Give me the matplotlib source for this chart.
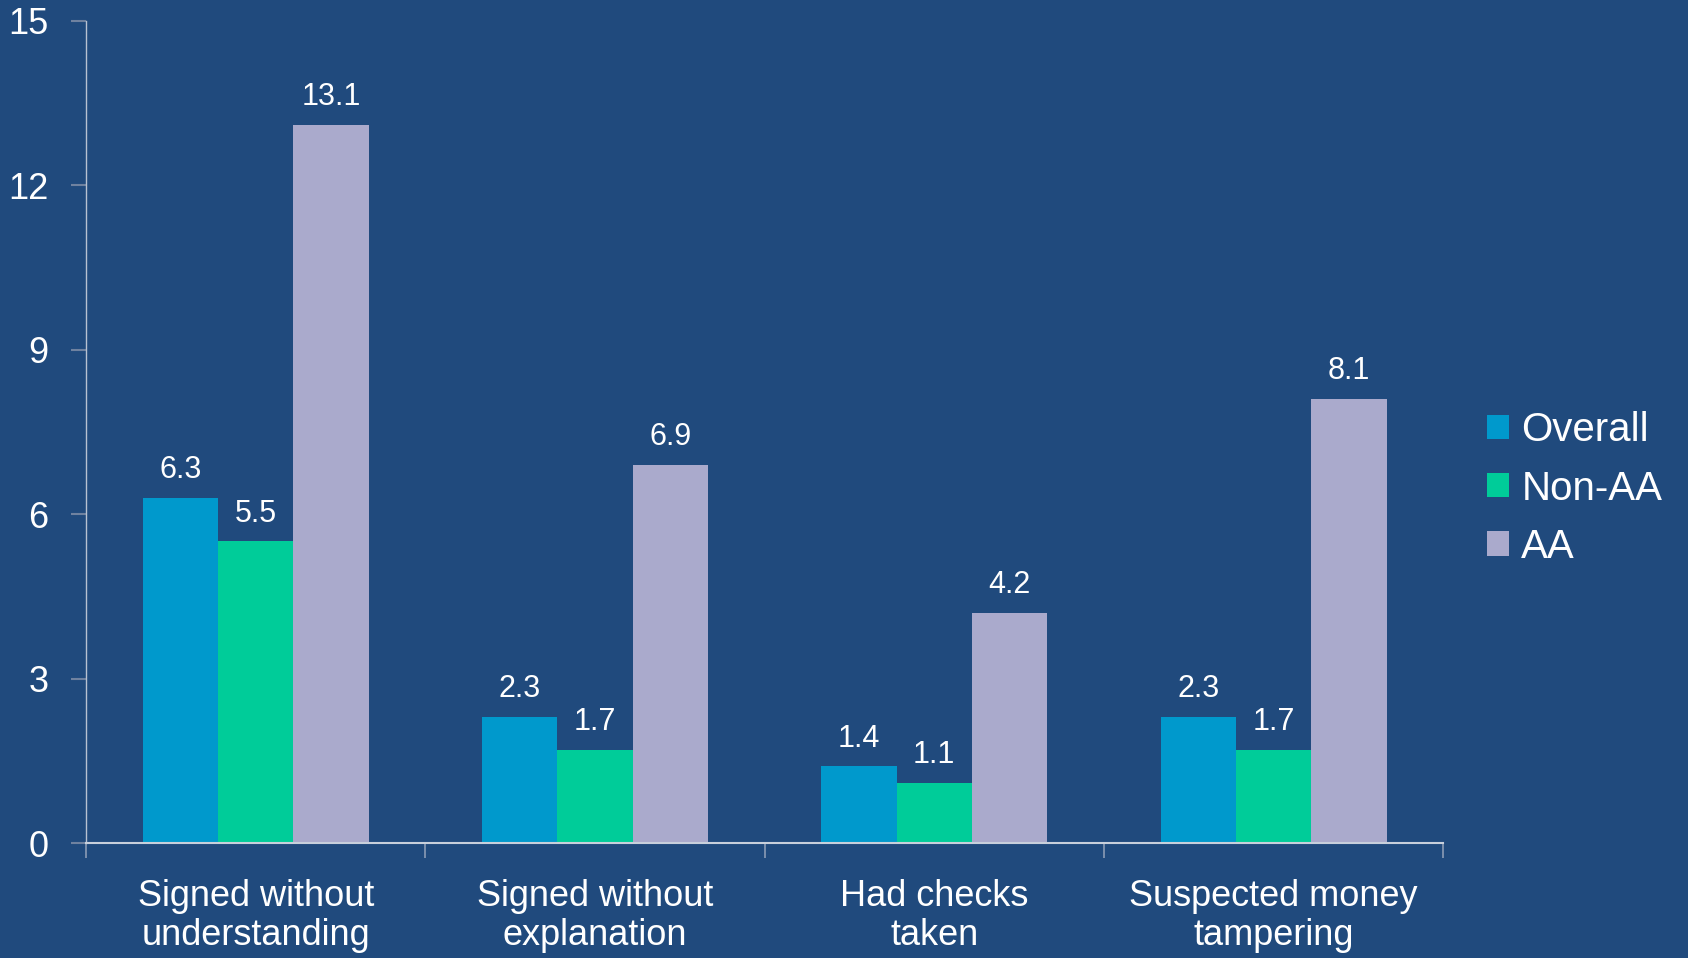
import matplotlib

matplotlib.use("Agg")

import matplotlib.pyplot as plt
import numpy as np

categorias = ["Signed without\nunderstanding", "Signed without\nexplanation",
              "Had checks\ntaken", "Suspected money\ntampering"]
overall = [6.3, 2.3, 1.4, 2.3]
non_aa = [5.5, 1.7, 1.1, 1.7]
aa = [13.1, 6.9, 4.2, 8.1]
series = ["Overall", "Non-AA", "AA"]
cores = ["#0099CC", "#00CC99", "#AAAACC"]

fundo = "#204A7D"
plt.rcParams["font.family"] = ["Liberation Sans", "DejaVu Sans"]

fig = plt.figure(figsize=(16.88, 9.58), dpi=100, facecolor=fundo)
ax = fig.add_axes([0.051, 0.120, 0.804, 0.8586])
ax.set_facecolor(fundo)

x = np.arange(len(categorias))
largura = 0.222
for i, (nome, valores, cor) in enumerate(zip(series, [overall, non_aa, aa], cores)):
    barras = ax.bar(x + (i - 1) * largura, valores, largura, color=cor, label=nome)
    ax.bar_label(barras, labels=[f"{v:.1f}" for v in valores], padding=9,
                 fontsize=22, color="white")

ax.set_xlim(-0.5, len(categorias) - 0.5)
ax.set_ylim(0, 15)
ax.set_yticks([0, 3, 6, 9, 12, 15])

ax.set_xticks(x)
ax.set_xticklabels(categorias, fontsize=26, color="white", linespacing=1.15)
ax.set_xticks(np.arange(-0.5, len(categorias)), minor=True)
ax.tick_params(axis="x", which="major", length=0, pad=26)
ax.tick_params(axis="x", which="minor", length=11, color="#8A9BB5", width=1.2)
ax.tick_params(axis="y", length=11, color="#6F82A0", width=1.5, pad=16,
               labelsize=26, labelcolor="white")

for lado in ["top", "right"]:
    ax.spines[lado].set_visible(False)
ax.spines["left"].set_color("#B8C2D2")
ax.spines["bottom"].set_color("#C8D0DC")
ax.spines["left"].set_linewidth(1.0)
ax.spines["bottom"].set_linewidth(1.5)

leg = fig.legend(loc="center left", bbox_to_anchor=(0.881, 0.49), frameon=False,
                 fontsize=29, labelcolor="white", handlelength=0.55, handleheight=0.55,
                 handletextpad=0.3, labelspacing=0.5, borderaxespad=0, borderpad=0)

fig.savefig("out.png", dpi=100, facecolor=fundo)
